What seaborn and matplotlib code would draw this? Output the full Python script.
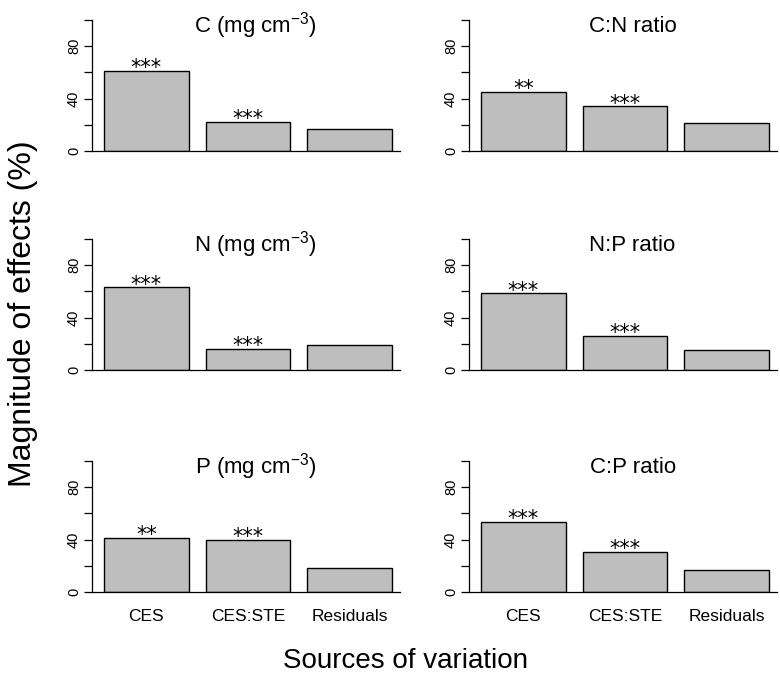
import matplotlib
matplotlib.use("Agg")
import matplotlib.pyplot as plt
import seaborn as sns
import pandas as pd

sns.set_style("ticks")
plt.rcParams['font.family'] = ['Liberation Sans', 'DejaVu Sans']
plt.rcParams['mathtext.fontset'] = 'custom'
plt.rcParams['mathtext.rm'] = 'Liberation Sans'
plt.rcParams['mathtext.it'] = 'Liberation Sans'
plt.rcParams['text.color'] = 'black'
plt.rcParams['xtick.color'] = 'black'
plt.rcParams['ytick.color'] = 'black'

sources = ["CES", "CES:STE", "Residuals"]
titles = [r"C (mg cm$^{-3}$)", "C:N ratio",
          r"N (mg cm$^{-3}$)", "N:P ratio",
          r"P (mg cm$^{-3}$)", "C:P ratio"]
val_C = [61, 22, 17]
val_CN = [45, 34, 21]
val_N = [63, 16, 19]
val_NP = [58.5, 26, 15]
val_P = [41, 40, 18]
val_CP = [53.5, 30.5, 16.5]
sig_C = ["***", "***", ""]
sig_CN = ["**", "***", ""]
sig_N = ["***", "***", ""]
sig_NP = ["***", "***", ""]
sig_P = ["**", "***", ""]
sig_CP = ["***", "***", ""]

values = [val_C, val_CN, val_N, val_NP, val_P, val_CP]
sigs = [sig_C, sig_CN, sig_N, sig_NP, sig_P, sig_CP]

W, H = 780, 676
fig = plt.figure(figsize=(W / 100, H / 100), dpi=100)

px_per_unit = 1.31
ytop = 104
zero_rows = [151, 370, 592]
left_cols = [92, 469]
ax_w = 308

for i in range(6):
    r, c = divmod(i, 2)
    x0 = left_cols[c]
    y0 = zero_rows[r]
    h = ytop * px_per_unit
    ax = fig.add_axes([x0 / W, (H - y0) / H, ax_w / W, h / H])
    df = pd.DataFrame({"source": sources, "value": values[i]})
    sns.barplot(data=df, x="source", y="value", ax=ax, color="#BEBEBE",
                saturation=1, edgecolor="black", linewidth=1.0, width=0.833)
    ax.set_xlim(-0.534, 2.495)
    ax.set_ylim(0, ytop)
    ax.set_xlabel("")
    ax.set_ylabel("")
    ax.set_yticks([0, 20, 40, 60, 80, 100])
    ax.set_yticklabels(["0", "", "40", "", "80", ""], rotation=90, va="center")
    ax.tick_params(axis="y", length=6, width=0.9, pad=2, labelsize=10.5)
    ax.tick_params(axis="x", length=0, pad=12, labelsize=12.5)
    if r < 2:
        ax.set_xticklabels([])
    for s in ["top", "right"]:
        ax.spines[s].set_visible(False)
    ax.spines["left"].set_bounds(0, 100)
    ax.spines["left"].set_linewidth(0.9)
    ax.spines["bottom"].set_linewidth(0.9)
    ax.spines["left"].set_color("black")
    ax.spines["bottom"].set_color("black")
    ax.patch.set_alpha(0)
    ax.text(1.075, 90.5, titles[i], ha="center", va="baseline", fontsize=16)
    for j, s in enumerate(sigs[i]):
        if s:
            ax.annotate(s, xy=(j, values[i][j]), xytext=(0, -2.3),
                        textcoords="offset points", ha="center", va="baseline",
                        fontsize=15, family="DejaVu Sans")

fig.text(23 / W, 1 - 314 / H, "Magnitude of effects (%)", rotation=90,
         ha="center", va="center", fontsize=23)
fig.text(405 / W, 1 - 668 / H, "Sources of variation", ha="center",
         va="baseline", fontsize=20)

fig.savefig("out.png", dpi=100)
